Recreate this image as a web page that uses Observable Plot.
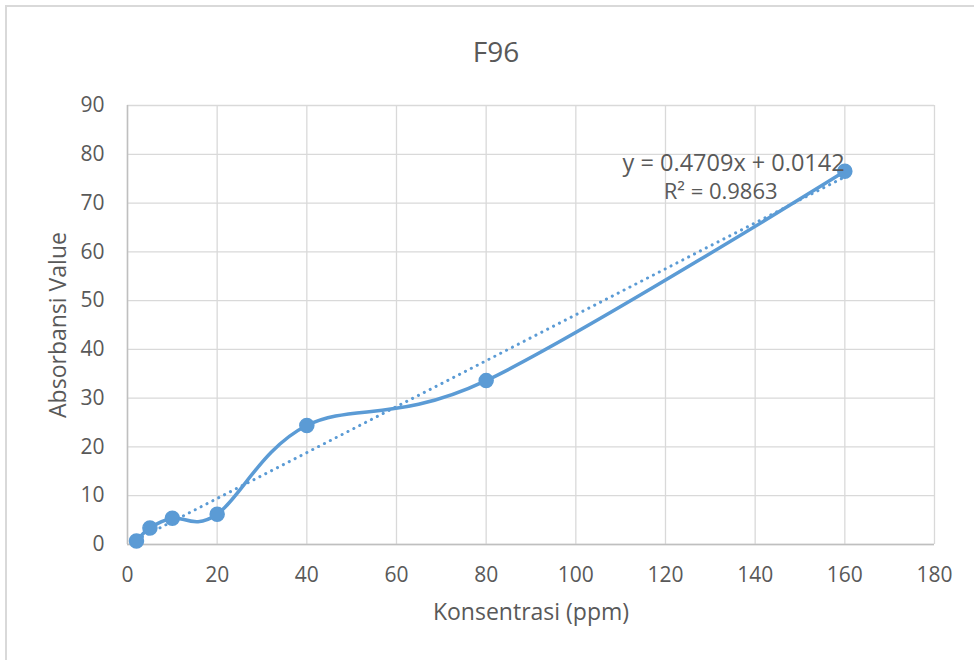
<!DOCTYPE html>
<html>
<head>
<meta charset="utf-8">
<script src="https://cdn.jsdelivr.net/npm/d3@7"></script>
<script src="https://cdn.jsdelivr.net/npm/@observablehq/plot@0.6"></script>
<style>
  html, body { margin: 0; padding: 0; background: #fff; }
  #wrap { position: relative; width: 974px; height: 660px; overflow: hidden; }
  #border { position: absolute; left: 5px; top: 5px; width: 1000px; height: 700px; border: 2px solid #d9d9d9; box-sizing: border-box; pointer-events: none; }
  svg { font-family: "Open Sans", sans-serif; }
</style>
</head>
<body>
<div id="wrap"><div id="border"></div></div>
<script>
// Data
const konsentrasi = [2, 5, 10, 20, 40, 80, 160];
const absorbansi = [0.7, 3.4, 5.4, 6.2, 24.4, 33.6, 76.5];
const xTicks = [0, 20, 40, 60, 80, 100, 120, 140, 160, 180];
const yTicks = [0, 10, 20, 30, 40, 50, 60, 70, 80, 90];
const slope = 0.4709;
const intercept = 0.0142;
const equationText = "y = 0.4709x + 0.0142";
const r2Text = "R² = 0.9863";
const chartTitle = "F96";
const xTitle = "Konsentrasi (ppm)";
const yTitle = "Absorbansi Value";

const points = konsentrasi.map((x, i) => ({x, y: absorbansi[i]}));
const xMin = d3.min(konsentrasi), xMax = d3.max(konsentrasi);
const trend = [xMin, xMax].map(x => ({x, y: slope * x + intercept}));
const eqLabel = [{x: 135.2, y: 78.1, text: equationText}];
const r2Label = [{x: 132.3, y: 72.2, text: r2Text}];

const blue = "#5b9bd5";
const textColor = "#595959";

const chart = Plot.plot({
  width: 974,
  height: 660,
  marginLeft: 127,
  marginRight: 40,
  marginTop: 105,
  marginBottom: 116,
  x: {domain: [0, 180]},
  y: {domain: [0, 90]},
  style: {fontFamily: "'Open Sans', sans-serif", fontSize: "21px", color: textColor, background: "transparent"},
  marks: [
    Plot.gridX(xTicks, {stroke: "#d9d9d9", strokeOpacity: 1, strokeWidth: 1.3}),
    Plot.gridY(yTicks, {stroke: "#d9d9d9", strokeOpacity: 1, strokeWidth: 1.3}),
    Plot.ruleY([0], {stroke: "#bfbfbf", strokeWidth: 1.5}),
    Plot.ruleX([0], {stroke: "#bfbfbf", strokeWidth: 1.5}),
    Plot.axisX({ticks: xTicks, tickSize: 0, tickPadding: 23, label: null, fontSize: 21, fill: textColor}),
    Plot.axisY({ticks: yTicks, tickSize: 0, tickPadding: 23, label: null, fontSize: 21, fill: textColor}),
    Plot.line(trend, {x: "x", y: "y", stroke: blue, strokeWidth: 3, strokeDasharray: "0.1 6.5", strokeLinecap: "round"}),
    Plot.line(points, {x: "x", y: "y", stroke: blue, strokeWidth: 3.5, curve: "cardinal", tension: 0}),
    Plot.dot(points, {x: "x", y: "y", r: 7, fill: blue, stroke: blue}),
    Plot.text(eqLabel, {x: "x", y: "y", text: "text", fontSize: 23.5, fill: textColor}),
    Plot.text(r2Label, {x: "x", y: "y", text: "text", fontSize: 22, fill: textColor}),
    Plot.text([chartTitle], {frameAnchor: "top", dy: -63, dx: -35, fontSize: 28, fill: textColor}),
    Plot.text([xTitle], {frameAnchor: "bottom", dy: 75, fontSize: 23, fill: textColor}),
    Plot.text([yTitle], {frameAnchor: "left", dx: -69, rotate: -90, textAnchor: "middle", fontSize: 23, fill: textColor})
  ]
});
document.getElementById("wrap").appendChild(chart);
chart.style.position = "absolute";
chart.style.left = "0px";
chart.style.top = "0px";
</script>
</body>
</html>
